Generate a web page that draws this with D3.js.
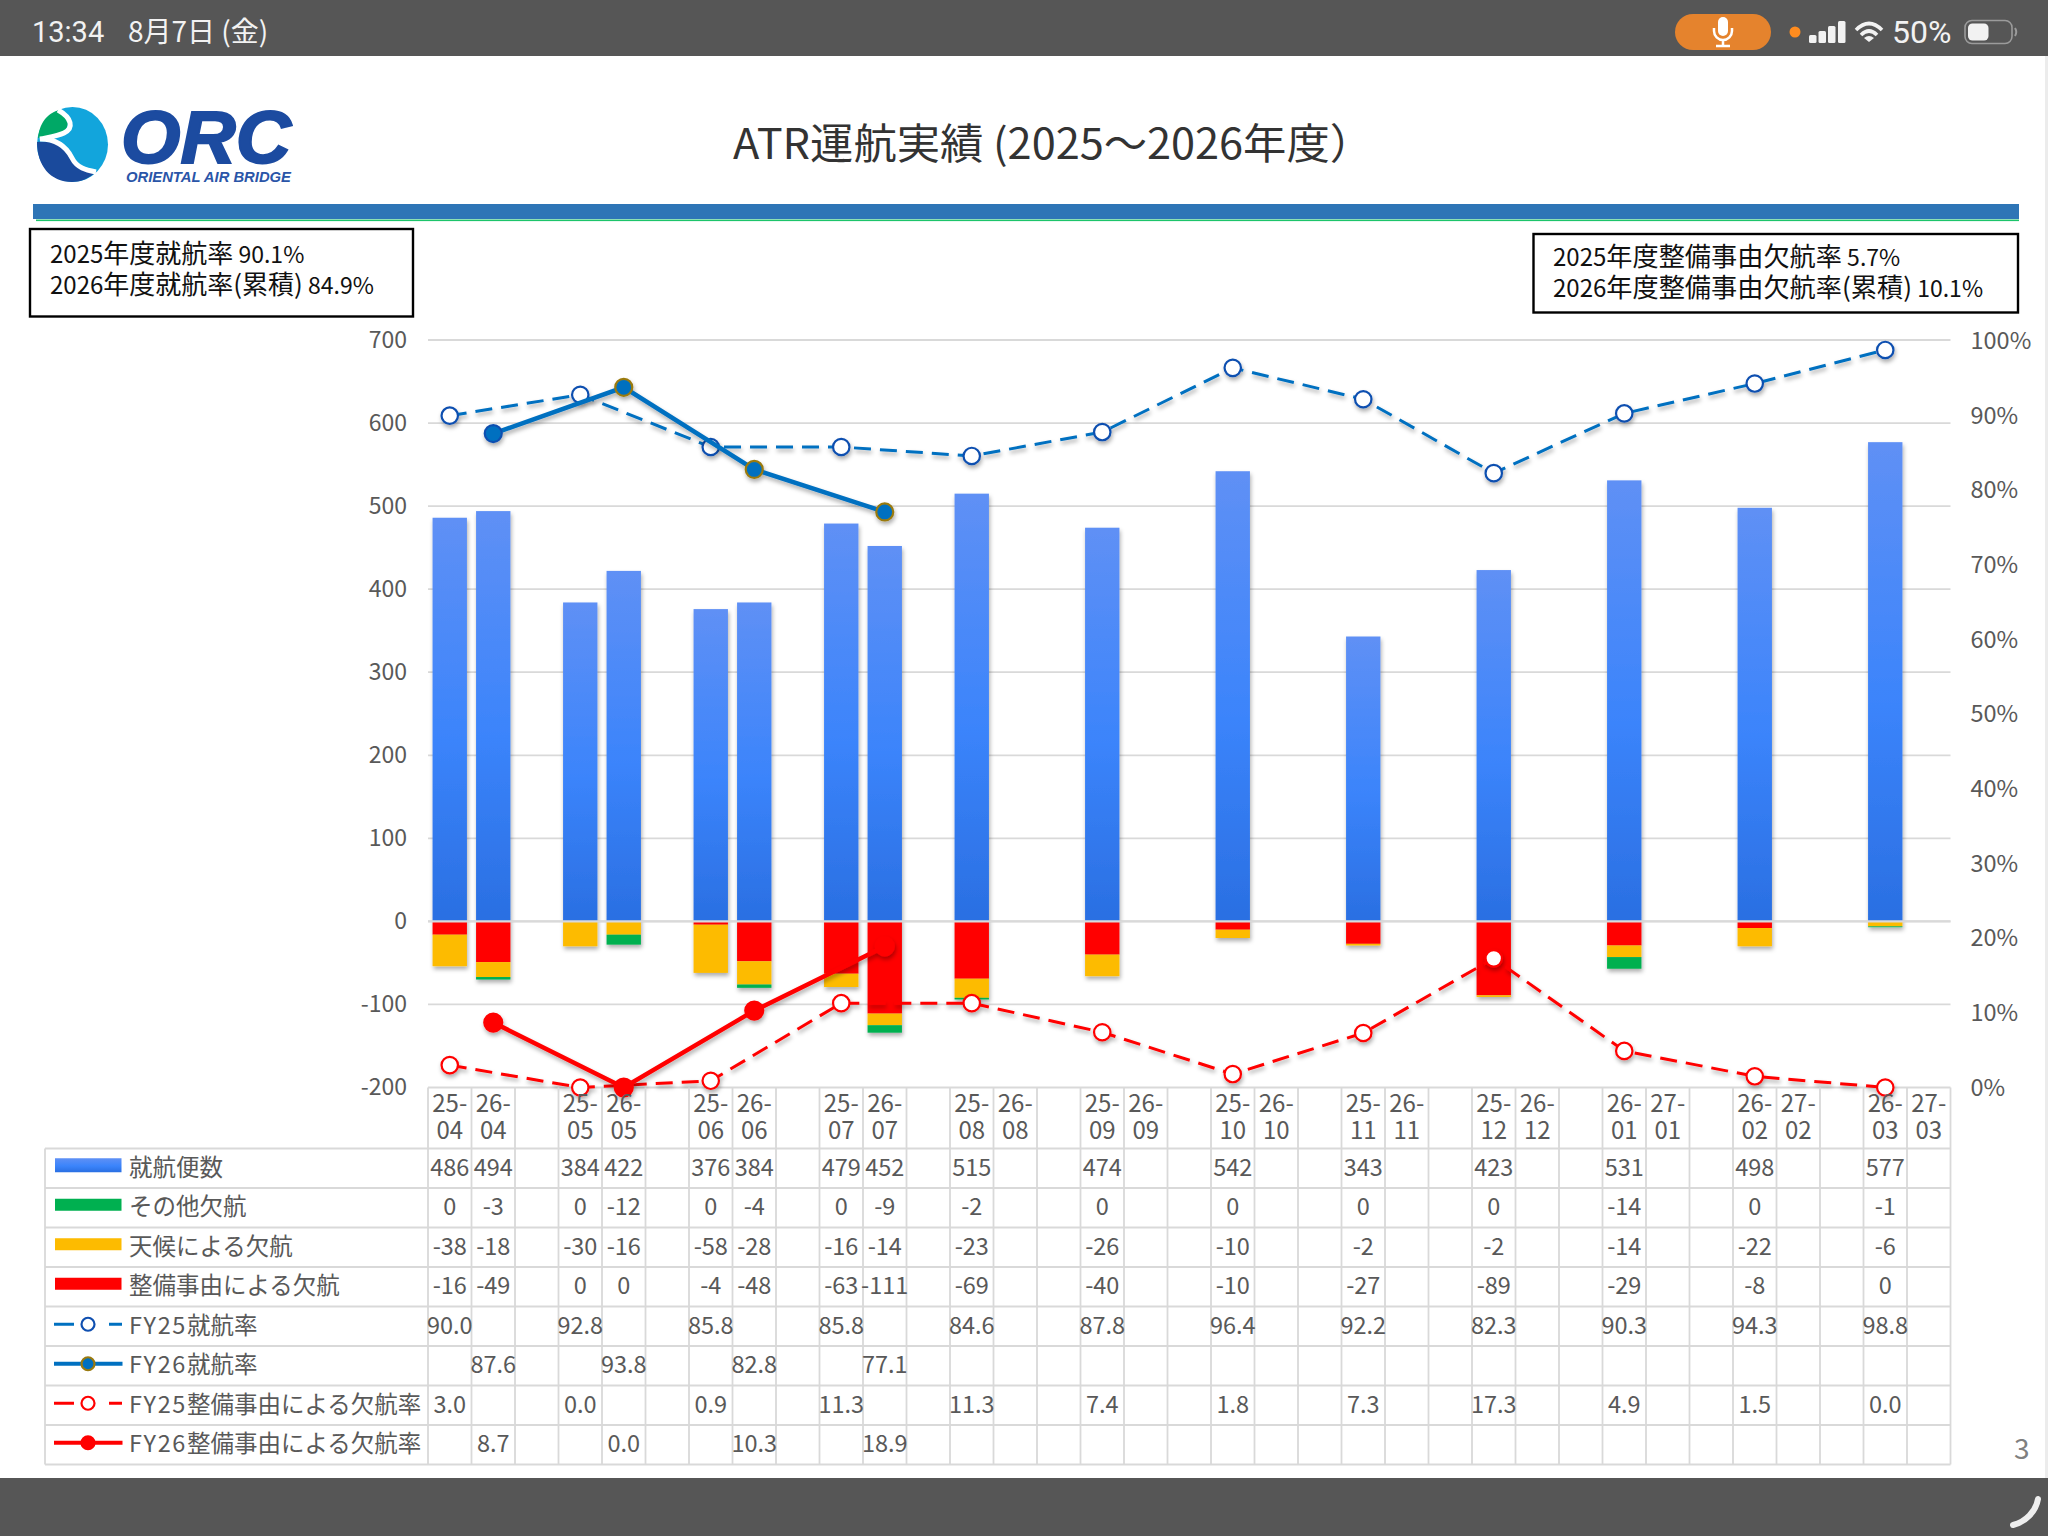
<!DOCTYPE html>
<html>
<head>
<meta charset="utf-8">
<script src="https://cdn.jsdelivr.net/npm/d3@7"></script>
<style>
  body { margin: 0; background: #fff; }
  svg { display: block; }
  text { font-family: "Noto Sans CJK JP", "Noto Sans", sans-serif; }
</style>
</head>
<body>
<svg id="chart" width="2048" height="1536"></svg>
<script>
const months25 = ["25-04", "25-05", "25-06", "25-07", "25-08", "25-09", "25-10", "25-11", "25-12", "26-01", "26-02", "26-03"];
const months26 = ["26-04", "26-05", "26-06", "26-07", "26-08", "26-09", "26-10", "26-11", "26-12", "27-01", "27-02", "27-03"];

const flights25 = [486, 384, 376, 479, 515, 474, 542, 343, 423, 531, 498, 577];
const flights26 = [494, 422, 384, 452];
const other25 = [0, 0, 0, 0, -2, 0, 0, 0, 0, -14, 0, -1];
const other26 = [-3, -12, -4, -9];
const weather25 = [-38, -30, -58, -16, -23, -26, -10, -2, -2, -14, -22, -6];
const weather26 = [-18, -16, -28, -14];
const maint25 = [-16, 0, -4, -63, -69, -40, -10, -27, -89, -29, -8, 0];
const maint26 = [-49, 0, -48, -111];
const rate25 = [90.0, 92.8, 85.8, 85.8, 84.6, 87.8, 96.4, 92.2, 82.3, 90.3, 94.3, 98.8];
const rate26 = [87.6, 93.8, 82.8, 77.1];
const maintRate25 = [3.0, 0.0, 0.9, 11.3, 11.3, 7.4, 1.8, 7.3, 17.3, 4.9, 1.5, 0.0];
const maintRate26 = [8.7, 0.0, 10.3, 18.9];

const leftTicks = [700, 600, 500, 400, 300, 200, 100, 0, -100, -200];
const rightTicks = [0, 10, 20, 30, 40, 50, 60, 70, 80, 90, 100];

const textGrey = "#595959";
const gridGrey = "#d9d9d9";
const lineBlue = "#0070c0";
const markBlue = "#0f4fb0";
const lineRed = "#ff0000";

const svg = d3.select("#chart");
const defs = svg.append("defs");

const barGrad = defs.append("linearGradient").attr("id", "barGrad").attr("x1", 0).attr("x2", 0).attr("y1", 0).attr("y2", 1);
barGrad.append("stop").attr("offset", "0%").attr("stop-color", "#5f90f5");
barGrad.append("stop").attr("offset", "55%").attr("stop-color", "#3b84fb");
barGrad.append("stop").attr("offset", "100%").attr("stop-color", "#2a6fe2");

const shadow = defs.append("filter").attr("id", "shadow").attr("x", "-20%").attr("y", "-20%").attr("width", "140%").attr("height", "140%");
shadow.append("feDropShadow").attr("dx", 1).attr("dy", 3).attr("stdDeviation", 2.2).attr("flood-color", "#000").attr("flood-opacity", 0.32);

// columns: 25 month, 26 month, spacer ... the last month has no spacer
const columns = months25.flatMap((m, i) => [m, months26[i], "gap" + i]).slice(0, -1);
const left = 428;
const right = 1950.5;
const x = d3.scaleBand().domain(columns).range([left, right]);
const cx = (c) => x(c) + x.bandwidth() / 2;
const barW = x.bandwidth() * 0.79;

const y = d3.scaleLinear().domain([-200, 700]).range([1087.5, 340]);
const yRate = d3.scaleLinear().domain([0, 100]).range([1087.5, 341]);

// page frame
svg.append("rect").attr("width", 2048).attr("height", 56).attr("fill", "#565656");
svg.append("rect").attr("y", 1478).attr("width", 2048).attr("height", 58).attr("fill", "#565656");
svg.append("rect").attr("x", 2045).attr("y", 56).attr("width", 3).attr("height", 1422).attr("fill", "#ececec");

// status bar
const status = svg.append("g").attr("fill", "#f2f2f2");
status.append("text").attr("x", 32).attr("y", 42).attr("font-size", 29).style("font-family", "Roboto").text("13:34");
status.append("text").attr("x", 128).attr("y", 42).attr("font-size", 28).text("8月7日 (金)");
status.append("rect").attr("x", 1675).attr("y", 14).attr("width", 96).attr("height", 36).attr("rx", 18).attr("fill", "#e5832d");
status.append("rect").attr("x", 1718).attr("y", 17).attr("width", 10).attr("height", 19).attr("rx", 5).attr("fill", "#fff");
status.append("path").attr("d", "M1714,28 v3 a9,9 0 0 0 18,0 v-3 M1723,40 v6 M1716,46 h14").attr("fill", "none").attr("stroke", "#fff").attr("stroke-width", 2.5);
status.append("circle").attr("cx", 1795).attr("cy", 32).attr("r", 5.5).attr("fill", "#ff8c1f");
[[1809, 8], [1818.5, 12], [1828, 17], [1838, 22]].forEach(([bx, bh]) => {
  status.append("rect").attr("x", bx).attr("y", 43 - bh).attr("width", 7.5).attr("height", bh).attr("rx", 1.5);
});
status.append("path").attr("d", "M1856,30 Q1869,17 1882,30 M1861,35 Q1869,27 1877,35").attr("fill", "none").attr("stroke", "#f2f2f2").attr("stroke-width", 3.6);
status.append("path").attr("d", "M1864,38 Q1869,34 1874,38 L1869,42 Z");
status.append("text").attr("x", 1892).attr("y", 42.5).attr("font-size", 32).style("font-family", "Roboto").text("50%");
status.append("rect").attr("x", 1965).attr("y", 20.5).attr("width", 47).attr("height", 23).attr("rx", 7).attr("fill", "none").attr("stroke", "#9b9b9b").attr("stroke-width", 1.6);
status.append("rect").attr("x", 1968).attr("y", 23.5).attr("width", 20.5).attr("height", 17).attr("rx", 4.5);
status.append("path").attr("d", "M2015,28 q2.5,4 0,8").attr("fill", "none").attr("stroke", "#9b9b9b").attr("stroke-width", 2);
svg.append("path").attr("d", "M2038,1499 C2036,1511 2026,1522 2013,1525").attr("fill", "none").attr("stroke", "#eeeeee").attr("stroke-width", 6).attr("stroke-linecap", "round");

// logo
const logo = svg.append("g");
logo.append("ellipse").attr("cx", 72.5).attr("cy", 144.5).attr("rx", 35.5).attr("ry", 37.5).attr("fill", "#12a5dc");
logo.append("path").attr("d", "M38,138 C40,120 50,112 60,110 C70,118 70,128 62,132 C54,135 46,136 38,138 Z").attr("fill", "#00a866");
logo.append("path").attr("d", "M37,142 C55,140 66,146 72,160 C77,170 86,170 96,172 C88,179 80,182 72,182 C50,182 37,165 37,142 Z").attr("fill", "#1a4a9c");
logo.append("path").attr("d", "M58,110 C72,118 74,128 64,133 C58,136 50,137 40,139 C56,139 66,146 72,158 C77,168 86,170 96,172").attr("fill", "none").attr("stroke", "#fff").attr("stroke-width", 5);
logo.append("text").attr("x", 121).attr("y", 163).attr("font-size", 75).attr("font-weight", 700).attr("font-style", "italic")
  .attr("textLength", 170).attr("lengthAdjust", "spacingAndGlyphs").attr("fill", "#1c4ba0").attr("stroke", "#1c4ba0").attr("stroke-width", 2)
  .style("font-family", "Liberation Sans").text("ORC");
logo.append("text").attr("x", 126).attr("y", 181.5).attr("font-size", 15).attr("font-weight", 700).attr("font-style", "italic")
  .attr("textLength", 165).attr("lengthAdjust", "spacingAndGlyphs").attr("fill", "#2a55a8")
  .style("font-family", "Liberation Sans").text("ORIENTAL AIR BRIDGE");

// header
svg.append("text").attr("x", 733).attr("y", 159).attr("font-size", 42).attr("fill", "#333")
  .attr("textLength", 640).attr("lengthAdjust", "spacingAndGlyphs").text("ATR運航実績 (2025～2026年度）");
svg.append("rect").attr("x", 33).attr("y", 204).attr("width", 1986).attr("height", 15).attr("fill", "#2e75b6");
svg.append("rect").attr("x", 36).attr("y", 219.5).attr("width", 1983).attr("height", 1.6).attr("fill", "#1cc46a");

function noteBox(bx, by, bw, bh, tx, firstY, cjkSize, lines) {
  svg.append("rect").attr("x", bx).attr("y", by).attr("width", bw).attr("height", bh).attr("fill", "#fff").attr("stroke", "#000").attr("stroke-width", 2.4);
  lines.forEach((line, i) => {
    const t = svg.append("text").attr("x", tx).attr("y", firstY + i * 31).attr("font-size", cjkSize).attr("fill", "#111");
    t.append("tspan").attr("font-size", 24).text(line[0]);
    t.append("tspan").text(line[1]);
    t.append("tspan").attr("font-size", 23).text(line[2]);
  });
}
noteBox(30, 229, 383, 87.5, 50, 263, 26, [["2025", "年度就航率", " 90.1%"], ["2026", "年度就航率(累積)", " 84.9%"]]);
noteBox(1533.5, 234, 484.5, 78.5, 1553, 266, 26.2, [["2025", "年度整備事由欠航率", " 5.7%"], ["2026", "年度整備事由欠航率(累積)", " 10.1%"]]);

// horizontal grid
svg.append("g").selectAll("line").data(leftTicks).join("line")
  .attr("x1", left).attr("x2", right)
  .attr("y1", (d) => y(d)).attr("y2", (d) => y(d))
  .attr("stroke", gridGrey).attr("stroke-width", 1.8);

// axes
const axisLeft = svg.append("g").attr("transform", `translate(${left},0)`)
  .call(d3.axisLeft(y).tickValues(leftTicks).tickSize(0).tickPadding(21).tickFormat((d) => String(d)));
const axisRight = svg.append("g").attr("transform", `translate(${right},0)`)
  .call(d3.axisRight(yRate).tickValues(rightTicks).tickSize(0).tickPadding(20).tickFormat((d) => d + "%"));
axisLeft.select(".domain").remove();
axisRight.select(".domain").remove();
axisLeft.selectAll("text").attr("font-size", 23).attr("fill", textGrey).style("font-family", "'Noto Sans CJK JP'");
axisRight.selectAll("text").attr("font-size", 23.5).attr("fill", textGrey).style("font-family", "'Noto Sans CJK JP'");

// stacked bars
const barRows = months25.map((m, i) => ({ col: m, flights: flights25[i], maint: maint25[i], weather: weather25[i], other: other25[i] }))
  .concat(flights26.map((v, i) => ({ col: months26[i], flights: v, maint: maint26[i], weather: weather26[i], other: other26[i] })));
const stackKeys = ["flights", "maint", "weather", "other"];
const stackColors = { flights: "url(#barGrad)", maint: "#ff0000", weather: "#fdbb00", other: "#00b050" };
const stacked = d3.stack().keys(stackKeys).offset(d3.stackOffsetDiverging)(barRows);

const bars = svg.append("g").attr("filter", "url(#shadow)");
stacked.forEach((layer) => {
  bars.append("g").selectAll("rect").data(layer.filter((d) => d[0] !== d[1])).join("rect")
    .attr("x", (d) => cx(d.data.col) - barW / 2)
    .attr("width", barW)
    .attr("y", (d) => y(Math.max(d[0], d[1])))
    .attr("height", (d) => Math.abs(y(d[0]) - y(d[1])))
    .attr("fill", stackColors[layer.key]);
});
svg.append("line").attr("x1", left).attr("x2", right).attr("y1", y(0)).attr("y2", y(0)).attr("stroke", gridGrey).attr("stroke-width", 2.4);

// rate lines
function rateLine(cols, values, color, width, dash, markR, markFill, markStroke) {
  const pts = values.map((v, i) => [cols[i], v]);
  const g = svg.append("g").attr("filter", "url(#shadow)");
  g.append("path").datum(pts)
    .attr("d", d3.line().x((d) => cx(d[0])).y((d) => yRate(d[1])))
    .attr("fill", "none").attr("stroke", color).attr("stroke-width", width).attr("stroke-dasharray", dash);
  g.selectAll("circle").data(pts).join("circle")
    .attr("cx", (d) => cx(d[0])).attr("cy", (d) => yRate(d[1])).attr("r", markR)
    .attr("fill", markFill)
    .attr("stroke", (d, i) => (typeof markStroke === "function" ? markStroke(i) : markStroke))
    .attr("stroke-width", 2.2);
}
rateLine(months25, rate25, lineBlue, 3, "17,9", 8.2, "#fff", markBlue);
rateLine(months25, maintRate25, lineRed, 3, "17,9", 8.2, "#fff", lineRed);
rateLine(months26, rate26, lineBlue, 4.5, null, 8.5, lineBlue, (i) => (i === 0 ? markBlue : "#9a7a10"));
rateLine(months26, maintRate26, lineRed, 4.5, null, 9, lineRed, lineRed);

// data table
const fmtInt = (v) => String(v);
const fmtRate = (v) => v.toFixed(1);
const tableRows = [
  { label: "就航便数", a: flights25, b: flights26, fmt: fmtInt, key: "bar", color: "url(#barGrad)", h: 14 },
  { label: "その他欠航", a: other25, b: other26, fmt: fmtInt, key: "bar", color: "#00b050", h: 12 },
  { label: "天候による欠航", a: weather25, b: weather26, fmt: fmtInt, key: "bar", color: "#fdbb00", h: 12 },
  { label: "整備事由による欠航", a: maint25, b: maint26, fmt: fmtInt, key: "bar", color: "#ff0000", h: 12 },
  { label: "FY25就航率", a: rate25, b: [], fmt: fmtRate, key: "dash", color: lineBlue, stroke: markBlue },
  { label: "FY26就航率", a: [], b: rate26, fmt: fmtRate, key: "solid", color: lineBlue, stroke: "#9a7a10" },
  { label: "FY25整備事由による欠航率", a: maintRate25, b: [], fmt: fmtRate, key: "dash", color: lineRed, stroke: lineRed },
  { label: "FY26整備事由による欠航率", a: [], b: maintRate26, fmt: fmtRate, key: "solid", color: lineRed, stroke: lineRed }
];

const tableLeft = 45;
const tableTop = 1148.5;
const tableBottom = 1464.5;
const rowY = d3.scaleBand().domain(tableRows.map((r) => r.label)).range([tableTop, tableBottom]);
const rowMid = (r) => rowY(r.label) + rowY.bandwidth() / 2;

const grid = svg.append("g").attr("stroke", gridGrey).attr("stroke-width", 1.8);
grid.selectAll(".h").data(tableRows.map((r) => rowY(r.label)).concat(tableBottom)).join("line")
  .attr("x1", tableLeft).attr("x2", right).attr("y1", (d) => d).attr("y2", (d) => d);
grid.selectAll(".v").data(columns.map((c) => x(c)).concat(right)).join("line")
  .attr("x1", (d) => d).attr("x2", (d) => d).attr("y1", y(-200)).attr("y2", tableBottom);
grid.append("line").attr("x1", tableLeft).attr("x2", tableLeft).attr("y1", tableTop).attr("y2", tableBottom);

// month labels
const axisBottom = svg.append("g").attr("transform", `translate(0,${y(-200)})`)
  .call(d3.axisBottom(x).tickSize(0).tickFormat(""));
axisBottom.select(".domain").remove();
axisBottom.selectAll(".tick text").each(function (d) {
  if (d.startsWith("gap")) return;
  const parts = d.split("-");
  const t = d3.select(this).attr("font-size", 24).attr("fill", textGrey).attr("y", 0).attr("dy", null).style("font-family", "'Noto Sans CJK JP'");
  t.append("tspan").attr("x", 0).attr("y", 24).text(parts[0] + "-");
  t.append("tspan").attr("x", 0).attr("y", 51).text(parts[1]);
});

// table values and legend keys
tableRows.forEach((row) => {
  const mid = rowMid(row);
  const cells = row.a.map((v, i) => [months25[i], v]).concat(row.b.map((v, i) => [months26[i], v]));
  svg.append("g").selectAll("text").data(cells).join("text")
    .attr("x", (d) => cx(d[0])).attr("y", mid - 1.2).attr("dy", "0.36em")
    .attr("text-anchor", "middle").attr("font-size", 23.5).attr("fill", textGrey)
    .text((d) => row.fmt(d[1]));
  const lab = svg.append("text").attr("x", 129).attr("y", mid - 1.2).attr("dy", "0.36em").attr("font-size", 23.5).attr("fill", textGrey);
  if (row.label.startsWith("FY")) {
    lab.append("tspan").attr("letter-spacing", 1.6).text(row.label.slice(0, 4));
    lab.append("tspan").text(row.label.slice(4));
  } else {
    lab.text(row.label);
  }
  if (row.key === "bar") {
    svg.append("rect").attr("x", 55).attr("y", mid - 3 - row.h / 2).attr("width", 66.5).attr("height", row.h).attr("fill", row.color);
  } else {
    const k = mid - 2;
    const solid = row.key === "solid";
    svg.append("line").attr("x1", 54).attr("x2", solid ? 122.5 : 74).attr("y1", k).attr("y2", k).attr("stroke", row.color).attr("stroke-width", solid ? 4 : 3);
    if (!solid) svg.append("line").attr("x1", 109).attr("x2", 122).attr("y1", k).attr("y2", k).attr("stroke", row.color).attr("stroke-width", 3);
    svg.append("circle").attr("cx", 88).attr("cy", k).attr("r", 6.5)
      .attr("fill", solid ? row.color : "#fff").attr("stroke", row.stroke).attr("stroke-width", 2.2);
  }
});

// page number
svg.append("text").attr("x", 2014).attr("y", 1459).attr("font-size", 28).attr("fill", "#808080").text("3");
</script>
</body>
</html>
